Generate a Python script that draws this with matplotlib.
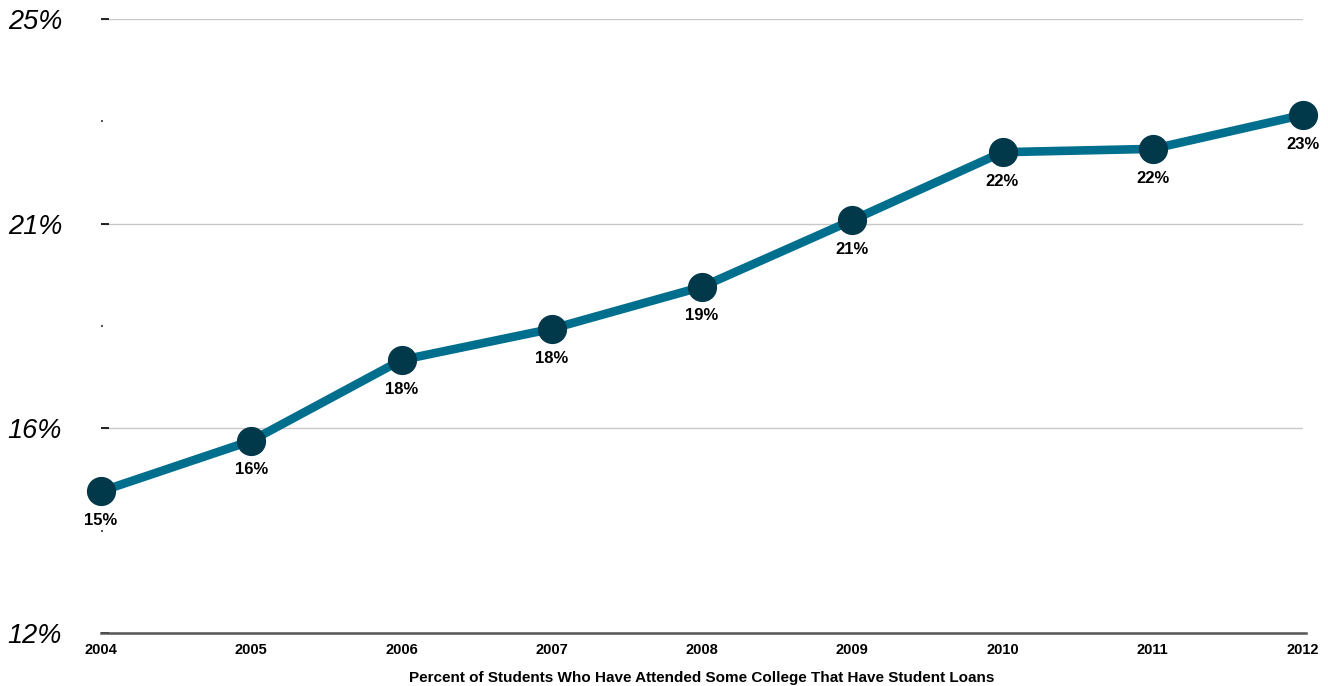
import matplotlib.pyplot as plt

years = [2004, 2005, 2006, 2007, 2008, 2009, 2010, 2011, 2012]
pct = [15.0, 16.07, 17.78, 18.44, 19.33, 20.74, 22.18, 22.25, 22.97]
point_labels = ['15%', '16%', '18%', '18%', '19%', '21%', '22%', '22%', '23%']
y_major = [12, 12 + 13 / 3, 12 + 26 / 3, 25]
y_major_labels = ['12%', '16%', '21%', '25%']
y_minor = [12 + 13 / 6, 12 + 13 / 2, 12 + 65 / 6]
x_title = 'Percent of Students Who Have Attended Some College That Have Student Loans'

line_color = '#006f8e'
dot_color = '#01384a'
sans = ['Liberation Sans', 'DejaVu Sans']

fig = plt.figure(figsize=(13.28, 6.86), dpi=100)
ax = fig.add_axes([101 / 1328, 1 - 633 / 686, (1303 - 101) / 1328, (633 - 19) / 686])

ax.plot(years, pct, color=line_color, lw=6.2, zorder=3, clip_on=False)
ax.plot(years, pct, 'o', color=dot_color, ms=20, zorder=4, clip_on=False)
for x, y, s in zip(years, pct, point_labels):
    ax.annotate(s, (x, y), xytext=(0, -21), textcoords='offset points',
                ha='center', va='center', fontsize=12, fontweight='bold',
                family=sans, zorder=5)

ax.set_xlim(2004, 2012)
ax.set_ylim(12, 25)
ax.set_xticks(years)
ax.set_xticklabels([str(y) for y in years], fontsize=10.5, fontweight='bold',
                   family=sans)
ax.set_yticks(y_major)
ax.set_yticklabels(y_major_labels, fontsize=19.5, style='italic', family=sans)
ax.set_yticks(y_minor, minor=True)
ax.tick_params(axis='y', which='major', direction='in', length=6, width=1.2,
               color='black', pad=28)
ax.tick_params(axis='y', which='minor', direction='in', length=1.5, width=1.5,
               color='#555555')
ax.tick_params(axis='x', length=0, pad=7)
ax.grid(axis='y', which='major', color='#c8c8c8', lw=1)
ax.set_axisbelow(True)
for side in ['top', 'right', 'left']:
    ax.spines[side].set_visible(False)
ax.spines['bottom'].set_color('#555555')
ax.spines['bottom'].set_linewidth(1.8)
ax.spines['bottom'].set_bounds(2004, 2012.02)
ax.set_xlabel(x_title, fontsize=11, fontweight='bold', family=sans,
              labelpad=10)

fig.savefig('out.png', dpi=100)
